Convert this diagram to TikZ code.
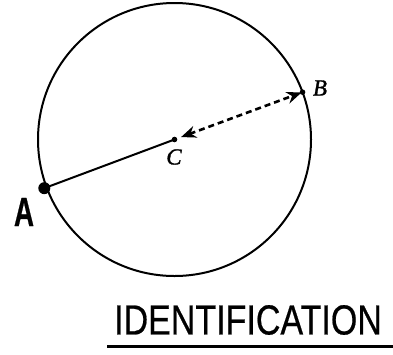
\documentclass[tikz,border=0pt]{standalone}
\usepackage{fontspec}
\newfontfamily\handfont[FakeBold=0.6]{Liberation Sans}
\newfontfamily\labfont[FakeBold=1.2]{Liberation Serif}
\usetikzlibrary{arrows.meta,calc}
\newcommand{\ptfont}{\labfont\fontsize{23}{23}\selectfont\itshape}
\tikzset{
  rim/.style={line width=2pt},
  radius line/.style={line width=2pt},
  dashlink/.style={line width=2.6pt, dash pattern=on 6pt off 4pt,
    {Stealth[length=15pt,width=12pt]}-{Stealth[length=15pt,width=12pt]},
    shorten <=7pt, shorten >=1pt},
  ptlabel/.style={inner sep=0pt},
  handlabel/.style={inner sep=0pt},
}
\begin{document}
\begin{tikzpicture}[x=1pt,y=-1pt]
\useasboundingbox (0,0) rectangle (393,354);
\coordinate (C) at (174.5,139.5);
\draw[rim] (C) circle[radius=136.5];
\coordinate (A) at ($(C)+(159.5:139)$);
\coordinate (B) at ($(C)+(-20.3:136.5)$);
\draw[radius line] (A) -- (C);
\fill (A) circle[radius=6];
\fill (C) circle[radius=2.8];
\fill (B) circle[radius=2.8];
\draw[dashlink] (C) -- (B);
\node[ptlabel] (lB) at (320,88) {\ptfont B};
\node[ptlabel] (lC) at (174,157) {\ptfont C};
\node[handlabel, xscale=0.68] (lA) at (24,212) {\handfont\bfseries\fontsize{41}{41}\selectfont A};
\node[handlabel, xscale=0.81] (title) at (248,320) {\handfont\fontsize{42}{42}\selectfont IDENTIFICATION};
\draw[line width=3pt] (107,346.5) -- (393,346.5);
\end{tikzpicture}
\end{document}
